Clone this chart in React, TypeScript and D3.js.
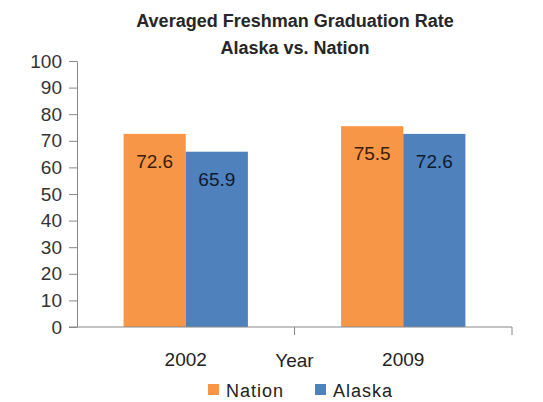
import * as d3 from "d3";
import React, { useRef, useEffect } from "react";

const years = ["2002", "2009"];
const seriesNames = ["Nation", "Alaska"];
const nationValues = [72.6, 75.5];
const alaskaValues = [65.9, 72.6];
const yTicks = [0, 10, 20, 30, 40, 50, 60, 70, 80, 90, 100];
const colors = ["#F79646", "#4F81BD"];
const labelColors = ["#3a1e08", "#0e1a2e"];

const W = 543;
const H = 402;
const margin = { top: 61, right: 31, bottom: 75, left: 77 };

function App() {
  const ref = useRef<SVGSVGElement>(null);

  useEffect(() => {
    const svg = d3.select(ref.current);
    svg.selectAll("*").remove();
    const font = "Liberation Sans, Arial, sans-serif";

    const x0 = d3
      .scaleBand()
      .domain(years)
      .range([margin.left, W - margin.right])
      .padding(0);
    const x1 = d3
      .scaleBand()
      .domain(seriesNames)
      .range([0, x0.bandwidth()])
      .paddingInner(0)
      .paddingOuter(0.75);
    const y = d3
      .scaleLinear()
      .domain([0, 100])
      .range([H - margin.bottom, margin.top]);

    // title
    const title = svg
      .append("text")
      .attr("text-anchor", "middle")
      .attr("font-family", font)
      .attr("font-weight", "bold")
      .attr("font-size", 18)
      .attr("fill", "#262626");
    title.append("tspan").attr("x", 295).attr("y", 27).text("Averaged Freshman Graduation Rate");
    title.append("tspan").attr("x", 295).attr("y", 54).text("Alaska vs. Nation");

    // bars
    const data = years.map((yr, i) => ({
      year: yr,
      vals: [nationValues[i], alaskaValues[i]],
    }));

    const groups = svg
      .append("g")
      .selectAll("g")
      .data(data)
      .enter()
      .append("g")
      .attr("transform", (d) => "translate(" + x0(d.year) + ",0)");

    groups
      .selectAll("rect")
      .data((d) => d.vals.map((v, j) => ({ name: seriesNames[j], v, j })))
      .enter()
      .append("rect")
      .attr("x", (d) => x1(d.name)!)
      .attr("width", x1.bandwidth())
      .attr("y", (d) => y(d.v))
      .attr("height", (d) => y(0) - y(d.v))
      .attr("fill", (d) => colors[d.j]);

    groups
      .selectAll("text")
      .data((d) => d.vals.map((v, j) => ({ name: seriesNames[j], v, j })))
      .enter()
      .append("text")
      .attr("x", (d) => x1(d.name)! + x1.bandwidth() / 2)
      .attr("y", (d) => y(d.v) + 34)
      .attr("text-anchor", "middle")
      .attr("font-family", font)
      .attr("font-size", 19)
      .attr("fill", (d) => labelColors[d.j])
      .text((d) => d.v.toFixed(1));

    // y axis
    const yAxis = d3
      .axisLeft(y)
      .tickValues(yTicks)
      .tickSize(8)
      .tickPadding(7)
      .tickSizeOuter(0);
    const ya = svg
      .append("g")
      .attr("transform", "translate(" + margin.left + ",0)")
      .call(yAxis);
    ya.selectAll("path, line").attr("stroke", "#888");
    ya.selectAll("text")
      .attr("font-family", font)
      .attr("font-size", 19)
      .attr("fill", "#333");

    // x axis line with category boundary ticks
    const xa = svg.append("g");
    xa.append("line")
      .attr("x1", margin.left - 8)
      .attr("x2", W - margin.right)
      .attr("y1", y(0))
      .attr("y2", y(0))
      .attr("stroke", "#888");
    const bounds = [x0(years[0])! + x0.bandwidth(), W - margin.right];
    xa.selectAll("line.tk")
      .data(bounds)
      .enter()
      .append("line")
      .attr("class", "tk")
      .attr("x1", (d) => d)
      .attr("x2", (d) => d)
      .attr("y1", y(0))
      .attr("y2", y(0) + 8)
      .attr("stroke", "#888");
    xa.selectAll("text")
      .data(years)
      .enter()
      .append("text")
      .attr("x", (d) => x0(d)! + x0.bandwidth() / 2)
      .attr("y", 366)
      .attr("text-anchor", "middle")
      .attr("font-family", font)
      .attr("font-size", 19)
      .attr("fill", "#222")
      .text((d) => d);

    svg
      .append("text")
      .attr("x", bounds[0])
      .attr("y", 367)
      .attr("text-anchor", "middle")
      .attr("font-family", font)
      .attr("font-size", 19)
      .attr("fill", "#222")
      .text("Year");

    // legend
    const legendX = [208, 315];
    const lg = svg
      .append("g")
      .selectAll("g")
      .data(seriesNames)
      .enter()
      .append("g")
      .attr("transform", (d, i) => "translate(" + legendX[i] + ",384)");
    lg.append("rect")
      .attr("width", 11)
      .attr("height", 11)
      .attr("fill", (d, i) => colors[i]);
    lg.append("text")
      .attr("x", 18)
      .attr("y", 13)
      .attr("font-family", font)
      .attr("font-size", 18)
      .attr("letter-spacing", 1)
      .attr("fill", "#222")
      .text((d) => d);
  }, []);

  return (
    <div>
      <svg ref={ref} width={W} height={H} style={{ position: "absolute", left: 0, top: 0 }}></svg>
    </div>
  );
}

export default App;
